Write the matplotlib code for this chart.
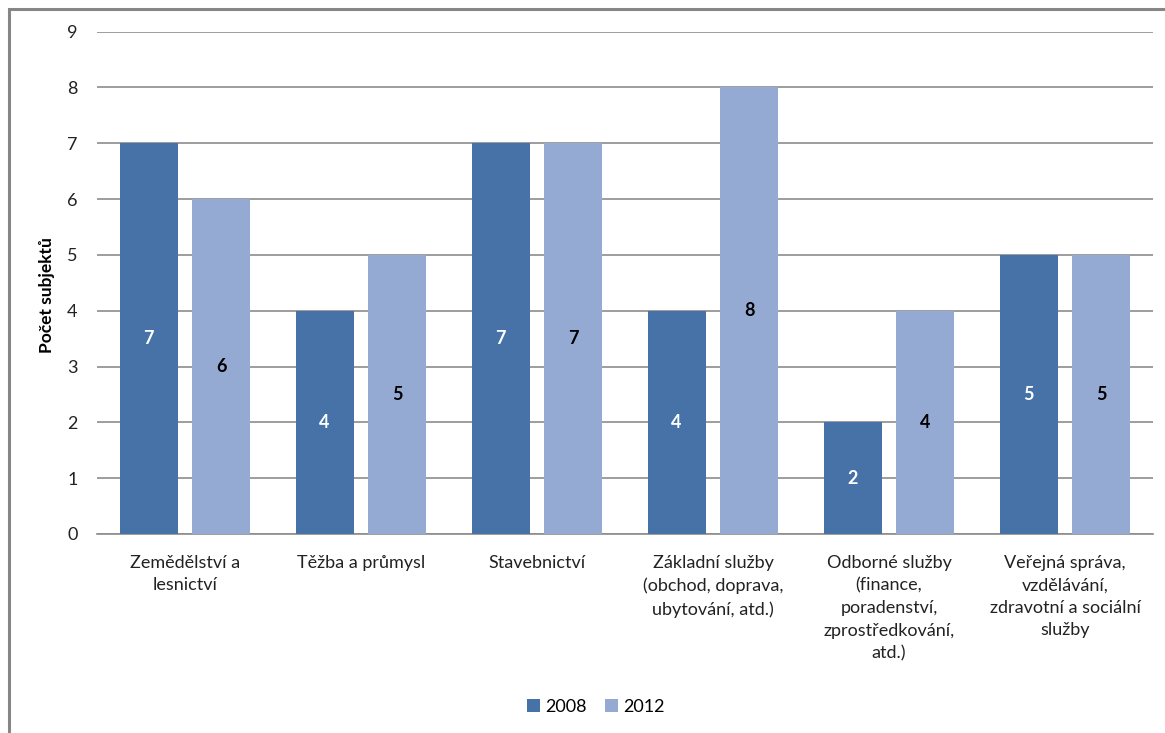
import matplotlib
matplotlib.use("Agg")
import matplotlib.pyplot as plt
from matplotlib.patches import Rectangle
import numpy as np

categories = [
    "Zemědělství a\nlesnictví",
    "Těžba a průmysl",
    "Stavebnictví",
    "Základní služby\n(obchod, doprava,\nubytování, atd.)",
    "Odborné služby\n(finance,\nporadenství,\nzprostředkování,\natd.)",
    "Veřejná správa,\nvzdělávání,\nzdravotní a sociální\nslužby",
]
values_2008 = [7, 4, 7, 4, 2, 5]
values_2012 = [6, 5, 7, 8, 4, 5]
series_names = ["2008", "2012"]
y_ticks = list(range(0, 10))

plt.rcParams['font.family'] = ['Lato', 'DejaVu Sans']

W, H = 1165, 733
fig = plt.figure(figsize=(W / 100, H / 100), dpi=100)
ax = fig.add_axes([97 / W, 1 - 534 / H, (1153 - 97) / W, (534 - 31.5) / H])

c1 = "#4672A8"
c2 = "#94AAD2"
x = np.arange(len(categories))
bw = 0.33
b1 = ax.bar(x - 0.207, values_2008, bw, color=c1, label=series_names[0], zorder=3)
b2 = ax.bar(x + 0.207, values_2012, bw, color=c2, label=series_names[1], zorder=3)

fs = 13
for rect, v in zip(b1, values_2008):
    ax.text(rect.get_x() + rect.get_width() / 2, v / 2, str(v), ha='center', va='center',
            color='white', fontsize=fs, fontweight='bold', zorder=4)
for rect, v in zip(b2, values_2012):
    ax.text(rect.get_x() + rect.get_width() / 2, v / 2, str(v), ha='center', va='center',
            color='black', fontsize=fs, fontweight='bold', zorder=4)

ax.set_xlim(-0.5, len(categories) - 0.5)
ax.set_ylim(0, 9)
ax.set_yticks(y_ticks)
ax.set_yticklabels([str(t) for t in y_ticks], fontsize=fs, color='#222222')
ax.tick_params(axis='y', length=0, pad=14)
ax.tick_params(axis='x', length=0, pad=15)
ax.set_xticks(x)
ax.set_xticklabels(categories, fontsize=fs, color='#222222', linespacing=1.5, va='top')
ax.grid(axis='y', color='#8C8C8C', linewidth=1.2, zorder=0)
for s in ['left', 'right', 'top']:
    ax.spines[s].set_visible(False)
ax.spines['bottom'].set_color('#8C8C8C')
ax.spines['bottom'].set_linewidth(1.2)

fig.text(47 / W, 1 - 295 / H, "Počet subjektů", rotation=90, ha='center', va='center',
         fontsize=12.5, fontweight='bold', color='black')

leg = fig.legend(handles=[b1, b2], labels=series_names, loc='center',
                 bbox_to_anchor=(596 / W, 1 - 707 / H), ncol=2, frameon=False,
                 fontsize=fs, handlelength=0.7, handleheight=0.7, handletextpad=0.3,
                 columnspacing=1.0)

fig.add_artist(Rectangle((9 / W, -0.1), 1.2, 1 - 9 / H + 0.1, transform=fig.transFigure,
                         fill=False, edgecolor='#868686', linewidth=2.2))

fig.savefig("out.png", dpi=100)
